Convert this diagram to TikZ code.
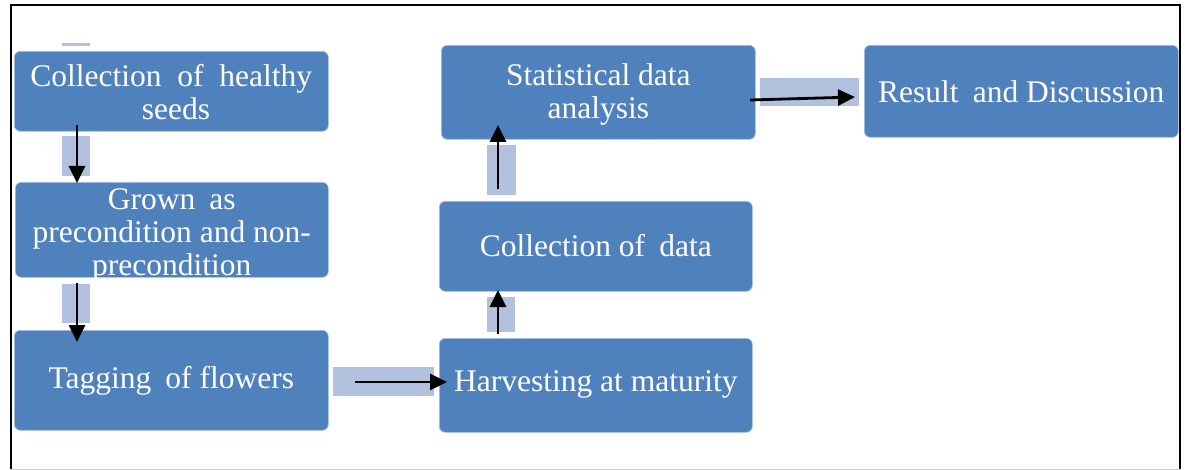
\documentclass[tikz,border=0pt]{standalone}
\usepackage{fontspec}
\setmainfont{Liberation Serif}
\usetikzlibrary{arrows.meta}
\definecolor{boxblue}{HTML}{4F81BD}
\definecolor{boxedge}{HTML}{A9C0E0}
\definecolor{stripblue}{HTML}{B1C1DE}
\begin{document}
\begin{tikzpicture}[x=1pt,y=-1pt,
  box/.style={fill=boxblue, draw=boxedge, line width=0.6pt, rounded corners=6pt,
    inner sep=0pt, anchor=north west},
  label/.style={text=white, font=\fontsize{31.5}{33}\selectfont, align=center, inner sep=0pt},
  strip/.style={fill=stripblue, draw=none},
  flow/.style={-{Triangle[length=17pt,width=16pt]}, line width=2.8pt, black}]
\useasboundingbox (0,0) rectangle (1185,470);
\fill[white] (0,0) rectangle (1185,470);
\draw[line width=1.5pt] (11,469) -- (11,5) -- (1180,5) -- (1180,469);
\draw[gray!40, line width=1pt] (11,469) -- (1180,469);

% light strips behind connectors
\fill[strip] (62,43) rectangle (90,46);
\fill[strip] (62,136) rectangle (90,176);
\fill[strip] (62,284) rectangle (90,323);
\fill[strip] (333,367) rectangle (434,396);
\fill[strip] (487,297) rectangle (515,332);
\fill[strip] (487,145) rectangle (516,195);
\fill[strip] (760,78) rectangle (859,106);

% boxes
\node[box, minimum width=314pt, minimum height=80pt] (b1) at (14,51) {};
\node[box, minimum width=313pt, minimum height=95pt] (b2) at (15,182) {};
\node[box, minimum width=314pt, minimum height=100pt] (b3) at (14,330) {};
\node[box, minimum width=313pt, minimum height=94pt] (b4) at (439,338) {};
\node[box, minimum width=313pt, minimum height=90pt] (b5) at (439,201) {};
\node[box, minimum width=314pt, minimum height=94pt] (b6) at (441,45) {};
\node[box, minimum width=314pt, minimum height=92pt] (b7) at (864,45) {};

% texts (yshift is in page units: negative moves down)
\node[label] (t1) at ([yshift=-1pt]b1.center) {Collection\hspace{0.5em}of\hspace{0.5em}healthy\\\hspace{0.3em}seeds};
\node[label] (t2) at ([yshift=-6pt]b2.center) {Grown\hspace{0.45em}as\\precondition and non-\\precondition};
\node[label] (t3) at ([yshift=-1pt]b3.center) {Tagging\hspace{0.45em}of flowers};
\node[label] (t4) at ([yshift=1pt]b4.center) {Harvesting at maturity};
\node[label] (t5) at ([yshift=1pt]b5.center) {Collection of\hspace{0.45em}data};
\node[label] (t6) at ([yshift=-2pt]b6.center) {Statistical data\\analysis};
\node[label] (t7) at (b7.center) {Result\hspace{0.45em}and Discussion};

% connector end points
\coordinate (s1) at (77,125);  \coordinate (e1) at (77,183);
\coordinate (s2) at (77,283);  \coordinate (e2) at (77,342);
\coordinate (s3) at (355,382); \coordinate (e3) at (447,382);
\coordinate (s4) at (498,334); \coordinate (e4) at (498,290);
\coordinate (s5) at (498,189); \coordinate (e5) at (498,125);
\coordinate (s6) at (750,100); \coordinate (e6) at (855,97);

\draw[flow] (s1) -- (e1);
\draw[flow] (s2) -- (e2);
\draw[flow] (s3) -- (e3);
\draw[flow] (s4) -- (e4);
\draw[flow] (s5) -- (e5);
\draw[flow] (s6) -- (e6);
\end{tikzpicture}
\end{document}
